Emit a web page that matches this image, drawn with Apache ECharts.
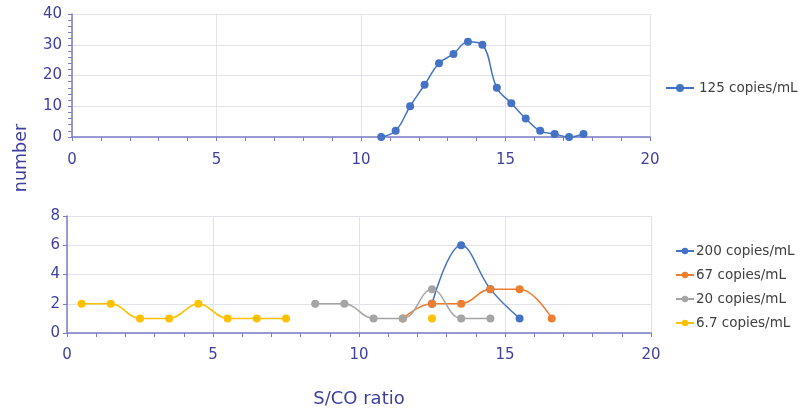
<!DOCTYPE html>
<html><head><meta charset="utf-8">
<script src="https://cdn.jsdelivr.net/npm/echarts@6/dist/echarts.min.js"></script>
<style>html,body{margin:0;padding:0;background:#fff}#c{width:804px;height:409px}</style>
</head><body><div id="c"></div>
<script>
const topX = [10.7, 11.2, 11.7, 12.2, 12.7, 13.2, 13.7, 14.2, 14.7, 15.2, 15.7, 16.2, 16.7, 17.2, 17.7];
const topY = [0, 2, 10, 17, 24, 27, 31, 30, 16, 11, 6, 2, 1, 0, 1];
const s200X = [12.5, 13.5, 14.5, 15.5];
const s200Y = [2, 6, 3, 1];
const s67X = [11.5, 12.5, 13.5, 14.5, 15.5, 16.6];
const s67Y = [1, 2, 2, 3, 3, 1];
const s20X = [8.5, 9.5, 10.5, 11.5, 12.5, 13.5, 14.5];
const s20Y = [2, 2, 1, 1, 3, 1, 1];
const s67dX = [0.5, 1.5, 2.5, 3.5, 4.5, 5.5, 6.5, 7.5, 10, 12.5];
const s67dY = [2, 2, 1, 1, 2, 1, 1, 1, null, 1];
const names = ['125 copies/mL', '200 copies/mL', '67 copies/mL', '20 copies/mL', '6.7 copies/mL'];
const colors = ['#4472C4', '#4472C4', '#ED7D31', '#A5A5A5', '#FFC000'];

const zip = (xs, ys) => xs.map((x, i) => [x, ys[i]]);
const axisCol = '#7B7BC8';
const labCol = '#3F3FA0';
const font = '"DejaVu Sans", Verdana, sans-serif';

function xAx(gi, labelMargin, extra) {
  return Object.assign({
    type: 'value', gridIndex: gi, min: 0, max: 20, interval: 5,
    axisLine: {show: true, lineStyle: {color: axisCol, width: 1.5}},
    axisTick: {show: true, length: 4, lineStyle: {color: axisCol}},
    minorTick: {show: true, splitNumber: 5, length: 4, lineStyle: {color: axisCol}},
    splitLine: {show: true, lineStyle: {color: '#E2E2EA'}},
    axisLabel: {color: labCol, fontSize: 15, fontFamily: font, margin: labelMargin}
  }, extra || {});
}
function yAx(gi, max, interval, minor, margin) {
  return {
    type: 'value', gridIndex: gi, min: 0, max: max, interval: interval,
    axisLine: {show: true, lineStyle: {color: axisCol, width: 1.5}},
    axisTick: {show: true, length: 4, lineStyle: {color: axisCol}},
    minorTick: {show: minor, splitNumber: 5, length: 4, lineStyle: {color: axisCol}},
    splitLine: {show: true, lineStyle: {color: '#E2E2EA'}},
    axisLabel: {color: labCol, fontSize: 15, fontFamily: font, margin: margin}
  };
}
function ser(i, data, xi, yi) {
  return {
    name: names[i], type: 'line', xAxisIndex: xi, yAxisIndex: yi, data: data,
    smooth: 0.4, connectNulls: false, symbol: 'circle', symbolSize: 8,
    lineStyle: {color: colors[i], width: 1.5}, itemStyle: {color: colors[i]},
    animation: false
  };
}

const chart = echarts.init(document.getElementById('c'));
chart.setOption({
  animation: false,
  grid: [
    {left: 72, right: 154, top: 14, height: 123},
    {left: 67, right: 153, top: 216, height: 117}
  ],
  xAxis: [
    xAx(0, 16),
    xAx(1, 15, {name: 'S/CO ratio', nameLocation: 'middle', nameGap: 57,
      nameTextStyle: {color: labCol, fontSize: 18, fontFamily: font}})
  ],
  yAxis: [yAx(0, 40, 10, true, 10), yAx(1, 8, 2, false, 7)],
  legend: [
    {data: [names[0]], orient: 'vertical', left: 665, top: 81, padding: 0, itemWidth: 28, itemHeight: 10, itemGap: 6,
      textStyle: {color: '#404040', fontSize: 13.5, fontFamily: font}},
    {data: names.slice(1), orient: 'vertical', left: 675, top: 244, padding: 0, itemGap: 10, itemWidth: 18, itemHeight: 8,
      textStyle: {color: '#404040', fontSize: 13.5, fontFamily: font, padding: [0, 0, 0, -3]}}
  ],
  graphic: [{
    type: 'text', x: 21, y: 158, rotation: Math.PI / 2,
    style: {text: 'number', fill: labCol, font: '17.5px ' + font, textAlign: 'center', textVerticalAlign: 'middle'}
  }],
  series: [
    ser(0, zip(topX, topY), 0, 0),
    ser(1, zip(s200X, s200Y), 1, 1),
    ser(2, zip(s67X, s67Y), 1, 1),
    ser(3, zip(s20X, s20Y), 1, 1),
    ser(4, zip(s67dX, s67dY), 1, 1)
  ]
});
</script></body></html>
